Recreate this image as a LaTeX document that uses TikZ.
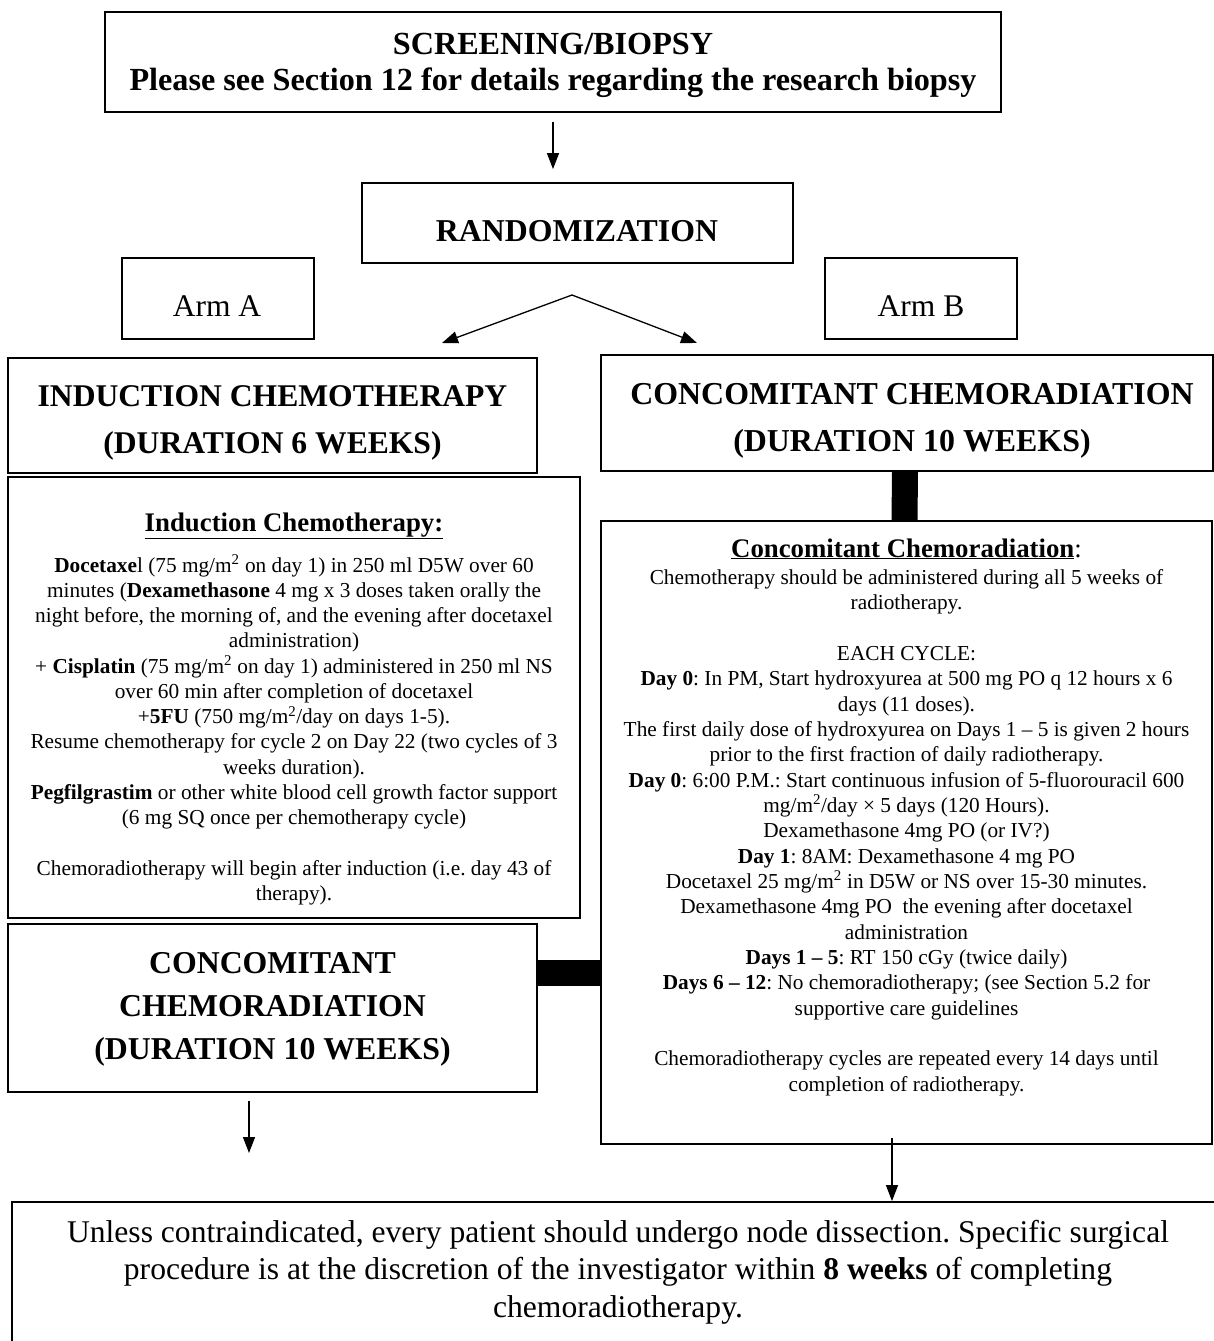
\documentclass[tikz,border=0pt]{standalone}
\usepackage{fontspec}
\setmainfont{Liberation Serif}
\usetikzlibrary{arrows.meta,calc}
\frenchspacing
\begin{document}
\begin{tikzpicture}[x=1pt,y=-1pt,
  box/.style={draw, line width=1.8pt, inner sep=0pt},
  arr/.style={line width=1.3pt, -{Triangle[length=16pt,width=12pt]}},
  bar/.style={line width=26pt},
  bigtxt/.style={inner sep=0pt, align=center, font=\fontsize{31.8}{36}\selectfont\bfseries},
  armtxt/.style={inner sep=0pt, font=\fontsize{31.5}{36}\selectfont},
  ttl/.style={inner sep=0pt, anchor=base, font=\fontsize{26.8}{30}\selectfont},
  body/.style={inner sep=0pt, anchor=north, align=center, font=\fontsize{21.3}{25.25}\selectfont},
]
\useasboundingbox (0,0) rectangle (1214,1341);

% boxes
\node[box, minimum width=896, minimum height=100] (screen) at (553,62) {};
\node[box, minimum width=431, minimum height=80] (rand) at (577.5,223) {};
\node[box, minimum width=192, minimum height=81] (arma) at (218,298.5) {};
\node[box, minimum width=192, minimum height=81] (armb) at (921,298.5) {};
\node[box, minimum width=529, minimum height=115] (indh) at (272.5,415.5) {};
\node[box, minimum width=612, minimum height=116] (conh) at (907,413) {};
\node[box, minimum width=572, minimum height=441] (indbox) at (294,697.5) {};
\node[box, minimum width=611, minimum height=623] (crbox) at (906.5,832.5) {};
\node[box, minimum width=529, minimum height=168] (ccbox) at (272.5,1008) {};
\node[box, minimum width=1214, minimum height=160] (final) at (619,1282) {};

% texts
\node[bigtxt, font=\fontsize{32.2}{36}\selectfont\bfseries] (screentxt) at (553,65) {SCREENING/BIOPSY\\Please see Section 12 for details regarding the research biopsy};
\node[bigtxt] (randtxt) at (577,231) {RANDOMIZATION};
\node[armtxt] (armatxt) at (217,306) {Arm A};
\node[armtxt] (armbtxt) at (921,306) {Arm B};
\node[bigtxt, font=\fontsize{31.6}{47}\selectfont\bfseries] (indhtxt) at (272.5,422.5) {INDUCTION CHEMOTHERAPY\\(DURATION 6 WEEKS)};
\node[bigtxt, font=\fontsize{31.9}{47}\selectfont\bfseries] (conhtxt) at (912,420.5) {CONCOMITANT CHEMORADIATION\\(DURATION 10 WEEKS)};
\node[bigtxt, font=\fontsize{31.8}{43}\selectfont\bfseries] (cctxt) at (272.5,1009) {CONCOMITANT\\CHEMORADIATION\\(DURATION 10 WEEKS)};

\node[ttl] (indttl) at (294,531) {\underline{\textbf{Induction Chemotherapy:}}};
\node[body] (indbody) at (294,554.3) {\strut\textbf{Docetaxe}l (75 mg/m\textsuperscript{2} on day 1) in 250 ml D5W over 60\\
minutes (\textbf{Dexamethasone} 4 mg x 3 doses taken orally the\\
night before, the morning of, and the evening after docetaxel\\
administration)\\
+ \textbf{Cisplatin} (75 mg/m\textsuperscript{2} on day 1) administered in 250 ml NS\\
over 60 min after completion of docetaxel\\
+\textbf{5FU} (750 mg/m\textsuperscript{2}/day on days 1-5).\\
Resume chemotherapy for cycle 2 on Day 22 (two cycles of 3\\
weeks duration).\\
\textbf{Pegfilgrastim} or other white blood cell growth factor support\\
(6 mg SQ once per chemotherapy cycle)\\
\mbox{}\\
Chemoradiotherapy will begin after induction (i.e. day 43 of\\
therapy).};

\node[ttl] (crttl) at (906.5,557) {\underline{\textbf{Concomitant Chemoradiation}}:};
\node[body, font=\fontsize{21.3}{25.35}\selectfont] (crbody) at (906.5,566.3) {\strut Chemotherapy should be administered during all 5 weeks of\\
radiotherapy.\\
\mbox{}\\
EACH CYCLE:\\
\textbf{Day 0}: In PM, Start hydroxyurea at 500 mg PO q 12 hours x 6\\
days (11 doses).\\
The first daily dose of hydroxyurea on Days 1 – 5 is given 2 hours\\
prior to the first fraction of daily radiotherapy.\\
\textbf{Day 0}: 6:00 P.M.: Start continuous infusion of 5-fluorouracil 600\\
mg/m\textsuperscript{2}/day × 5 days (120 Hours).\\
Dexamethasone 4mg PO (or IV?)\\
\textbf{Day 1}: 8AM: Dexamethasone 4 mg PO\\
Docetaxel 25 mg/m\textsuperscript{2} in D5W or NS over 15-30 minutes.\\
Dexamethasone 4mg PO\ \ the evening after docetaxel\\
administration\\
\textbf{Days 1 – 5}: RT 150 cGy (twice daily)\\
\textbf{Days 6 – 12}: No chemoradiotherapy; (see Section 5.2 for\\
supportive care guidelines\\
\mbox{}\\
Chemoradiotherapy cycles are repeated every 14 days until\\
completion of radiotherapy.};

\node[body, font=\fontsize{31.6}{37.5}\selectfont] (finaltxt) at (618,1216) {\strut Unless contraindicated, every patient should undergo node dissection. Specific surgical\\
procedure is at the discretion of the investigator within \textbf{8 weeks} of completing\\
chemoradiotherapy.};

% connectors
\draw[arr, shorten <=9pt, shorten >=13pt] (screen.south) -- (screen.south |- rand.north);
\coordinate (split) at (572,295);
\coordinate (tipA) at (442,343);
\coordinate (tipB) at (697,343);
\draw[arr] (split) -- (tipA);
\draw[arr] (split) -- (tipB);
\draw[bar] ([xshift=-2pt]conh.south) -- ([xshift=-2pt]crbox.north);
\coordinate (hb) at ($(ccbox.east)+(0,-35)$);
\draw[bar] (hb) -- (hb -| crbox.west);
\coordinate (leftend) at (249,1153);
\draw[arr, shorten <=8pt] (ccbox.south -| leftend) -- (leftend);
\coordinate (rstart) at (892,1138);
\draw[arr] (rstart) -- (rstart |- final.north);
\end{tikzpicture}
\end{document}
